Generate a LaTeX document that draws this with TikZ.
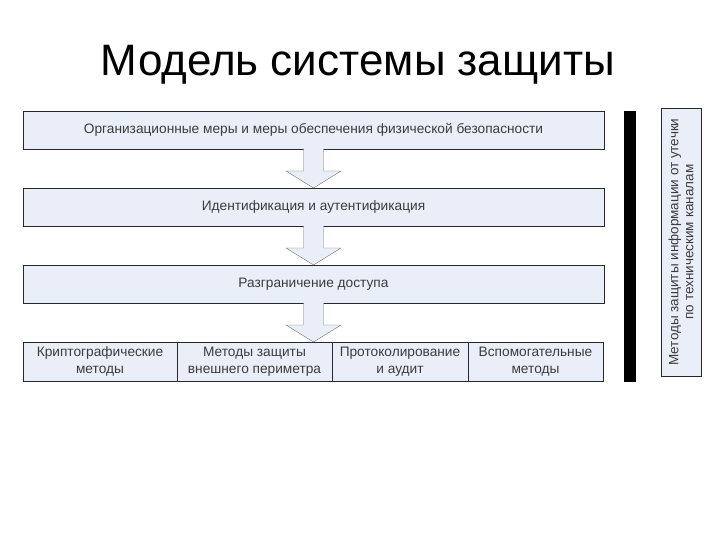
\documentclass[tikz,border=0pt]{standalone}
\usepackage{fontspec}
\setmainfont{Liberation Sans}
\usepackage{xcolor}
\usepackage{tikz}
\usetikzlibrary{positioning, calc}

\definecolor{boxfill}{RGB}{233,238,248}
\definecolor{boxline}{RGB}{40,40,40}
\definecolor{boxtext}{RGB}{60,60,60}

% block arrow pointing down from one box to the next
\newcommand{\blockdown}[2]{%
  \filldraw[blockarr] ($(#1.south)+(-10pt,0)$)
    -- ($(#1.south |- #2.north)+(-10pt,17pt)$) -- ++(-17.5pt,0)
    -- (#1.south |- #2.north)
    -- ++(27.5pt,17pt) -- ++(-17.5pt,0)
    -- ($(#1.south)+(10pt,0)$);}

\begin{document}
\begin{tikzpicture}[
  x=1pt, y=-1pt,
  node distance=39pt,
  stagebox/.style={
    rectangle, draw=boxline, fill=boxfill, outer sep=0pt,
    minimum width=581pt, minimum height=38pt,
    font=\fontsize{13.7}{17}\selectfont, text=boxtext
  },
  cellbox/.style={
    rectangle, draw=boxline, fill=boxfill, outer sep=0pt,
    minimum height=39pt, inner sep=0pt, align=center,
    font=\fontsize{13.7}{17}\selectfont, text=boxtext
  },
  sidebox/.style={
    rectangle, draw=boxline, fill=boxfill, outer sep=0pt,
    minimum width=268pt, minimum height=40pt, align=center,
    font=\fontsize{13.5}{15}\selectfont, text=boxtext
  },
  blockarr/.style={draw=black!55, fill=boxfill, line join=miter}
]
\useasboundingbox (0,0) rectangle (720,540);

%% Title
\node[font=\fontsize{44}{50}\selectfont, anchor=base] (title) at (358,76) {Модель системы защиты};

%% Stages, top to bottom
\node[stagebox] (org) at (313.5,130) {Организационные меры и меры обеспечения физической безопасности};
\node[stagebox, below=of org]    (ident)  {Идентификация и аутентификация};
\node[stagebox, below=of ident]  (access) {Разграничение доступа};

%% Bottom row of methods
\node[cellbox, minimum width=154pt, below right=39pt and 0pt of access.south west] (crypto) {Криптографические\\методы};
\node[cellbox, minimum width=155pt, right=0pt of crypto] (perim) {Методы защиты\\внешнего периметра};
\node[cellbox, minimum width=136pt, right=0pt of perim]  (audit) {Протоколирование\\и аудит};
\node[cellbox, minimum width=135pt, right=0pt of audit]  (aux)   {Вспомогательные\\методы};

%% Block arrows
\foreach \src/\dst in {org/ident, ident/access, access/perim}
  \blockdown{\src}{\dst};

%% Right side: bar and leakage box
\node[fill=black, inner sep=0pt, outer sep=0pt, minimum width=12pt, minimum height=271pt] (bar) at (629.5,246.5) {};
\node[sidebox, rotate=90] (leak) at (681,242) {Методы защиты информации от утечки\\по техническим каналам};

\end{tikzpicture}
\end{document}
